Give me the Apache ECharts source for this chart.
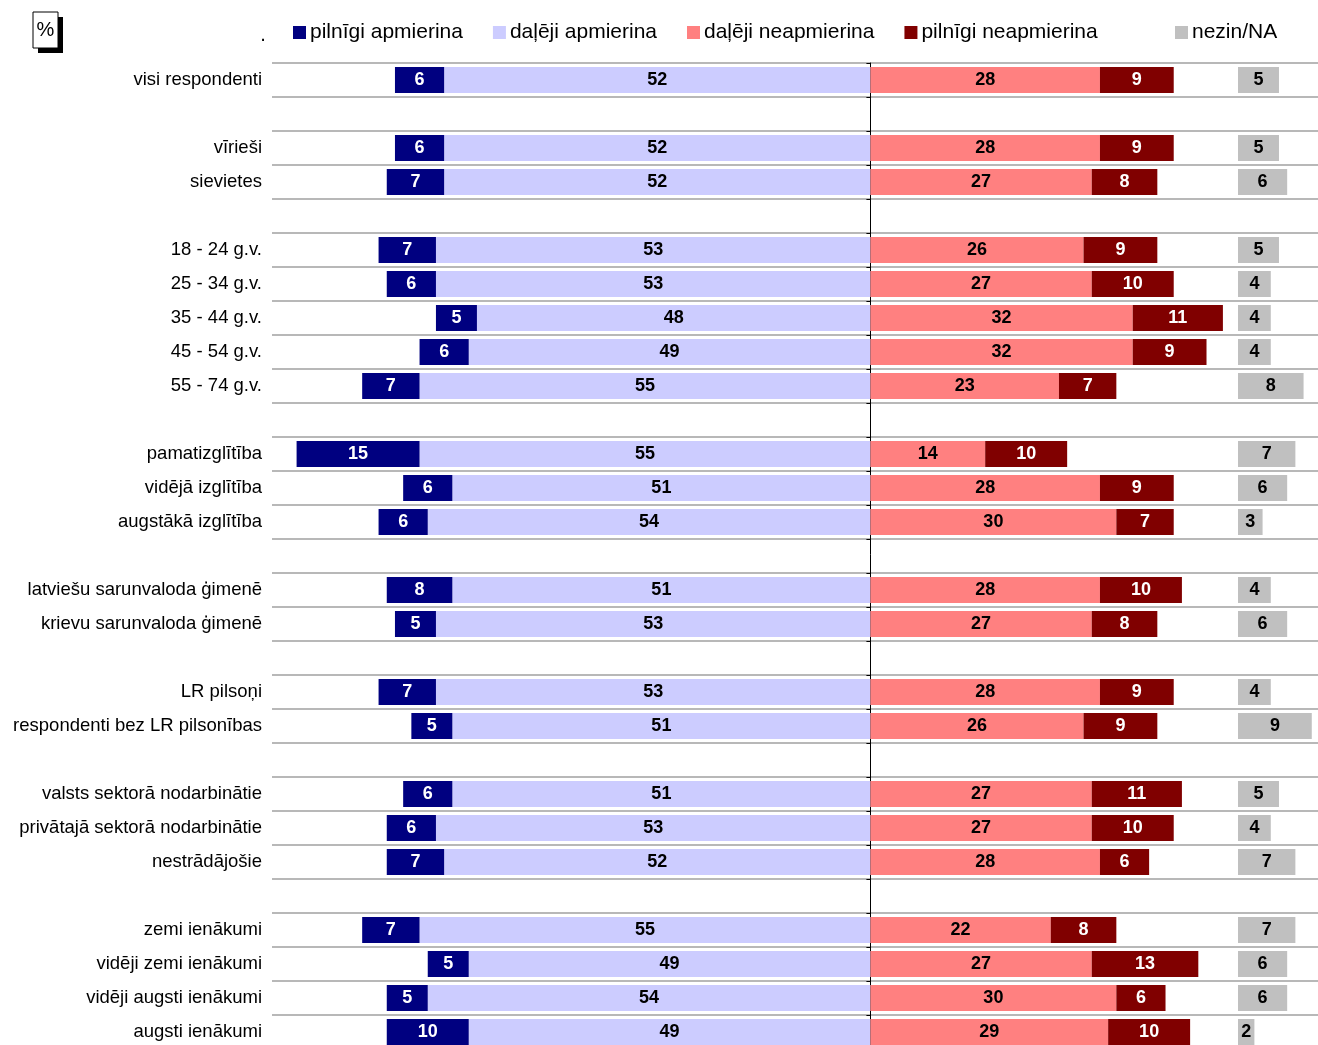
<!DOCTYPE html>
<html>
<head>
<meta charset="utf-8">
<script src="https://cdn.jsdelivr.net/npm/echarts@6/dist/echarts.min.js"></script>
<style>
html,body{margin:0;padding:0;background:#fff;}
#chart{width:1318px;height:1045px;}
</style>
</head>
<body>
<div id="chart"></div>
<script>
// categories ('' = empty separator row)
var categories = [
  'visi respondenti', '',
  'vīrieši', 'sievietes', '',
  '18 - 24 g.v.', '25 - 34 g.v.', '35 - 44 g.v.', '45 - 54 g.v.', '55 - 74 g.v.', '',
  'pamatizglītība', 'vidējā izglītība', 'augstākā izglītība', '',
  'latviešu sarunvaloda ģimenē', 'krievu sarunvaloda ģimenē', '',
  'LR pilsoņi', 'respondenti bez LR pilsonības', '',
  'valsts sektorā nodarbinātie', 'privātajā sektorā nodarbinātie', 'nestrādājošie', '',
  'zemi ienākumi', 'vidēji zemi ienākumi', 'vidēji augsti ienākumi', 'augsti ienākumi'
];
var fullySatisfied   = [6,null, 6,7,null, 7,6,5,6,7,null, 15,6,6,null, 8,5,null, 7,5,null, 6,6,7,null, 7,5,5,10];
var partlySatisfied  = [52,null, 52,52,null, 53,53,48,49,55,null, 55,51,54,null, 51,53,null, 53,51,null, 51,53,52,null, 55,49,54,49];
var partlyUnsatisfied= [28,null, 28,27,null, 26,27,32,32,23,null, 14,28,30,null, 28,27,null, 28,26,null, 27,27,28,null, 22,27,30,29];
var fullyUnsatisfied = [9,null, 9,8,null, 9,10,11,9,7,null, 10,9,7,null, 10,8,null, 9,9,null, 11,10,6,null, 8,13,6,10];
var dontKnow         = [5,null, 5,6,null, 5,4,4,4,8,null, 7,6,3,null, 4,6,null, 4,9,null, 5,4,7,null, 7,6,6,2];

var seriesNames = ['pilnīgi apmierina', 'daļēji apmierina', 'daļēji neapmierina', 'pilnīgi neapmierina', 'nezin/NA'];
var colors = ['#000080', '#CCCCFF', '#FF8080', '#800000', '#C0C0C0'];

function neg(arr){ return arr.map(function(v){ return v == null ? null : -v; }); }
var absFmt = function(p){ return p.value == null ? '' : Math.abs(p.value); };
var FONT = '"Liberation Sans", Arial, sans-serif';
function lbl(color){
  return {show:true, position:'inside', formatter:absFmt, color:color, fontWeight:'bold', fontSize:18, fontFamily:FONT};
}
var BW = 26;

var option = {
  animation:false,
  backgroundColor:'#fff',
  legend:[{
    data:seriesNames.slice(0,4), left:288, top:17, itemWidth:13, itemHeight:13, itemGap:30,
    icon:'rect', textStyle:{fontSize:21, fontFamily:FONT, color:'#000', padding:[0,0,0,-1]}
  },{
    data:['nezin/NA'], left:1170, top:17, itemWidth:13, itemHeight:13,
    icon:'rect', textStyle:{fontSize:21, fontFamily:FONT, color:'#000', padding:[0,0,0,-1]}
  }],
  graphic:[
    {type:'rect', shape:{x:38, y:17, width:25, height:36}, style:{fill:'#000'}},
    {type:'rect', shape:{x:33, y:12, width:25, height:36}, style:{fill:'#fff', stroke:'#000', lineWidth:1}},
    {type:'text', x:45.5, y:30, style:{text:'%', fontSize:20, fontFamily:FONT, fill:'#000', align:'center', verticalAlign:'middle'}},
    {type:'text', x:263, y:35, style:{text:'.', fontSize:20, fontFamily:FONT, fill:'#000', align:'center', verticalAlign:'middle'}}
  ],
  grid:[
    {left:272, top:63, width:1046, height:986, outerBoundsMode:'none', containLabel:false},
    {left:1238, top:63, width:80, height:986, outerBoundsMode:'none', containLabel:false}
  ],
  xAxis:[
    {type:'value', gridIndex:0, min:-73, max:54.6, show:false, splitLine:{show:false}},
    {type:'value', gridIndex:1, min:0, max:9.76, show:false, splitLine:{show:false}}
  ],
  yAxis:[
    {type:'category', gridIndex:0, data:categories, inverse:true,
     axisLine:{show:true, onZero:true, lineStyle:{color:'#000', width:1}},
     axisTick:{show:true, length:4, lineStyle:{color:'#000'}},
     axisLabel:{show:false}, splitLine:{show:false}},
    {type:'category', gridIndex:0, data:categories, inverse:true, position:'left',
     axisLine:{show:false, onZero:false}, axisTick:{show:false},
     axisLabel:{show:true, margin:10, fontSize:18.5, fontFamily:FONT, color:'#000'},
     splitLine:{show:true, lineStyle:{color:'#a0a0a0', width:1.5}}},
    {type:'category', gridIndex:1, data:categories, inverse:true, show:false}
  ],
  series:[
    {name:seriesNames[1], type:'bar', stack:'left', xAxisIndex:0, yAxisIndex:0, barWidth:BW, barGap:'-100%',
     itemStyle:{color:colors[1]}, label:lbl('#000'), data:neg(partlySatisfied)},
    {name:seriesNames[0], type:'bar', stack:'left', xAxisIndex:0, yAxisIndex:0, barWidth:BW, barGap:'-100%',
     itemStyle:{color:colors[0]}, label:lbl('#fff'), data:neg(fullySatisfied)},
    {name:seriesNames[2], type:'bar', stack:'right', xAxisIndex:0, yAxisIndex:0, barWidth:BW, barGap:'-100%',
     itemStyle:{color:colors[2]}, label:lbl('#000'), data:partlyUnsatisfied},
    {name:seriesNames[3], type:'bar', stack:'right', xAxisIndex:0, yAxisIndex:0, barWidth:BW, barGap:'-100%',
     itemStyle:{color:colors[3]}, label:lbl('#fff'), data:fullyUnsatisfied},
    {name:seriesNames[4], type:'bar', xAxisIndex:1, yAxisIndex:2, barWidth:BW,
     itemStyle:{color:colors[4]}, label:lbl('#000'), data:dontKnow}
  ]
};
var chart = echarts.init(document.getElementById('chart'), null, {renderer:'canvas'});
chart.setOption(option);
</script>
</body>
</html>
